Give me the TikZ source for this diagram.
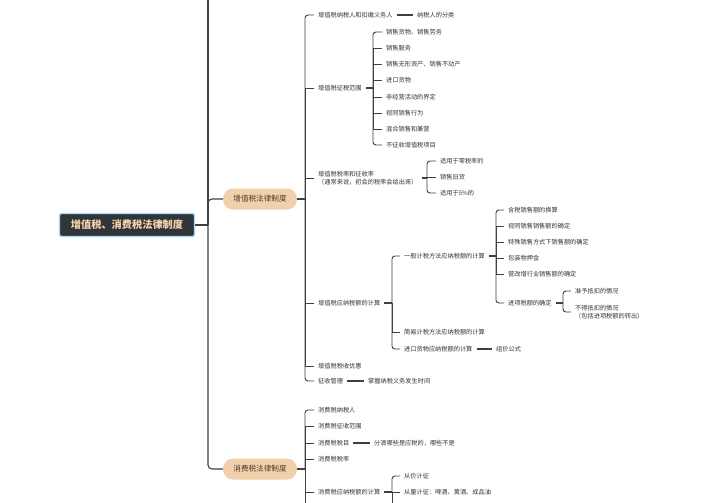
\documentclass[tikz,border=0pt]{standalone}
\usepackage{fontspec}
\setmainfont{Noto Sans CJK SC}
\definecolor{ln}{HTML}{3D4045}
\definecolor{txt}{HTML}{333333}
\definecolor{pillfill}{HTML}{F1D0AB}
\definecolor{pilltxt}{HTML}{4A3A2C}
\definecolor{rootfill}{HTML}{30353A}
\definecolor{rootborder}{HTML}{A6D9F7}
\definecolor{roottxt}{HTML}{F5D4AC}
\tikzset{
  leaf/.style={anchor=west, inner xsep=4pt, inner ysep=1pt, text=txt,
    font=\fontsize{6.2}{8}\selectfont, align=left},
  pill/.style={draw=none, fill=pillfill, rounded corners=10pt, minimum width=74pt,
    minimum height=21pt, text=pilltxt, font=\fontsize{7.6}{9}\selectfont, inner sep=0pt},
  rootbox/.style={draw=rootborder, line width=1.4pt, fill=rootfill, rounded corners=2pt,
    minimum width=135pt, minimum height=23pt, text=roottxt,
    font=\bfseries\fontsize{10.2}{12}\selectfont, inner sep=0pt},
  trunk/.style={draw=ln, line width=1.1pt},
  endlink/.style={draw=ln, line width=0.9pt, rounded corners=3pt},
  tick/.style={draw=ln, line width=0.9pt},
  bold/.style={draw=ln, line width=1.9pt},
  single/.style={draw=ln, line width=1.1pt}
}
\begin{document}
\begin{tikzpicture}[x=1pt,y=-1pt]
\useasboundingbox[fill=white] (0,0) rectangle (704,503);
\clip (0,0) rectangle (704,503);

% root and first level
\node[rootbox] (r) at (127,225) {增值税、消费税法律制度};
\coordinate (m) at (208,225);
\coordinate (mtop) at (208,-5);
\node[pill] (v) at (260,199) {增值税法律制度};
\node[pill] (x) at (260,469) {消费税法律制度};
\draw[trunk] (r.east) -- (m);
\draw[trunk] (m) -- (mtop);
\draw[trunk, rounded corners=4pt] (m) |- (v.west);
\draw[trunk, rounded corners=4pt] (m) |- (x.west);

% VAT children
\coordinate (vs) at (305,199);
\draw[bold] (v.east) -- (vs);
\node[leaf] (a1) at (314,15) {增值税纳税人和扣缴义务人};
\node[leaf] (a2) at (314,88) {增值税征税范围};
\node[leaf] (a3) at (314,178) {增值税税率和征收率\\（通常来说，初会的税率会给出来）};
\node[leaf] (a4) at (314,303) {增值税应纳税额的计算};
\node[leaf] (a5) at (314,366) {增值税税收优惠};
\node[leaf] (a6) at (314,381) {征收管理};
\draw[endlink] (vs) |- (a1.west);
\draw[tick] (vs) |- (a2.west);
\draw[tick] (vs) |- (a3.west);
\draw[tick] (vs) |- (a4.west);
\draw[tick] (vs) |- (a5.west);
\draw[endlink] (vs) |- (a6.west);

% a1
\node[leaf] (a1x) at (413,15) {纳税人的分类};
\draw[single] (a1.east) -- (a1x.west);
% a6
\node[leaf] (a6x) at (364,381) {掌握纳税义务发生时间};
\draw[single] (a6.east) -- (a6x.west);

% a2 scope
\coordinate (s2) at (373,88);
\draw[bold] (a2.east) -- (s2);
\node[leaf] (g1) at (382,32) {销售货物、销售劳务};
\node[leaf] (g2) at (382,48) {销售服务};
\node[leaf] (g3) at (382,64) {销售无形资产、销售不动产};
\node[leaf] (g4) at (382,80) {进口货物};
\node[leaf] (g5) at (382,97) {非经营活动的界定};
\node[leaf] (g6) at (382,113) {视同销售行为};
\node[leaf] (g7) at (382,129) {混合销售和兼营};
\node[leaf] (g8) at (382,145) {不征收增值税项目};
\draw[endlink] (s2) |- (g1.west);
\draw[tick] (s2) |- (g2.west);
\draw[tick] (s2) |- (g3.west);
\draw[tick] (s2) |- (g4.west);
\draw[tick] (s2) |- (g5.west);
\draw[tick] (s2) |- (g6.west);
\draw[tick] (s2) |- (g7.west);
\draw[endlink] (s2) |- (g8.west);

% a3 rates
\coordinate (s3) at (427,178);
\draw[bold] (a3.east) -- (s3);
\node[leaf] (h1) at (436,161) {适用于零税率的};
\node[leaf] (h2) at (436,177) {销售旧货};
\node[leaf] (h3) at (436,193) {适用于5\%的};
\draw[endlink] (s3) |- (h1.west);
\draw[tick] (s3) |- (h2.west);
\draw[endlink] (s3) |- (h3.west);

% a4 computation
\coordinate (s4) at (392,303);
\draw[bold] (a4.east) -- (s4);
\node[leaf] (b1) at (400,256) {一般计税方法应纳税额的计算};
\node[leaf] (b2) at (400,332) {简易计税方法应纳税额的计算};
\node[leaf] (b3) at (400,349) {进口货物应纳税额的计算};
\draw[endlink] (s4) |- (b1.west);
\draw[tick] (s4) |- (b2.west);
\draw[endlink] (s4) |- (b3.west);
\node[leaf] (b3x) at (492,349) {组价公式};
\draw[single] (b3.east) -- (b3x.west);

% b1
\coordinate (sb) at (496,256);
\draw[bold] (b1.east) -- (sb);
\node[leaf] (c1) at (504,210) {含税销售额的换算};
\node[leaf] (c2) at (504,226) {视同销售销售额的确定};
\node[leaf] (c3) at (504,242) {特殊销售方式下销售额的确定};
\node[leaf] (c4) at (504,258) {包装物押金};
\node[leaf] (c5) at (504,274) {营改增行业销售额的确定};
\node[leaf] (c6) at (504,303) {进项税额的确定};
\draw[endlink] (sb) |- (c1.west);
\draw[tick] (sb) |- (c2.west);
\draw[tick] (sb) |- (c3.west);
\draw[tick] (sb) |- (c4.west);
\draw[tick] (sb) |- (c5.west);
\draw[endlink] (sb) |- (c6.west);

% c6
\coordinate (sc) at (563,303);
\draw[bold] (c6.east) -- (sc);
\node[leaf] (d1) at (571,291) {准予抵扣的情况};
\node[leaf] (d2) at (571,312) {不得抵扣的情况\\（包括进项税额的转出）};
\draw[endlink] (sc) |- (d1.west);
\draw[endlink] (sc) |- (d2.west);

% consumption tax
\coordinate (xs) at (305,469);
\coordinate (xbot) at (305,515);
\draw[bold] (x.east) -- (xs);
\node[leaf] (e1) at (314,410) {消费税纳税人};
\node[leaf] (e2) at (314,426) {消费税征收范围};
\node[leaf] (e3) at (314,443) {消费税税目};
\node[leaf] (e4) at (314,459) {消费税税率};
\node[leaf] (e5) at (314,492) {消费税应纳税额的计算};
\draw[endlink] (xs) |- (e1.west);
\draw[tick] (xs) |- (e2.west);
\draw[tick] (xs) |- (e3.west);
\draw[tick] (xs) |- (e4.west);
\draw[tick] (xs) |- (e5.west);
\draw[tick] (xs) -- (xbot);
\node[leaf] (e3x) at (370,443) {分清哪些是应税的，哪些不是};
\draw[single] (e3.east) -- (e3x.west);

\coordinate (se) at (392,492);
\coordinate (sebot) at (392,515);
\draw[bold] (e5.east) -- (se);
\node[leaf] (f1) at (400,476) {从价计征};
\node[leaf] (f2) at (400,492) {从量计征：啤酒、黄酒、成品油};
\draw[endlink] (se) |- (f1.west);
\draw[tick] (se) |- (f2.west);
\draw[tick] (se) -- (sebot);
\end{tikzpicture}
\end{document}
